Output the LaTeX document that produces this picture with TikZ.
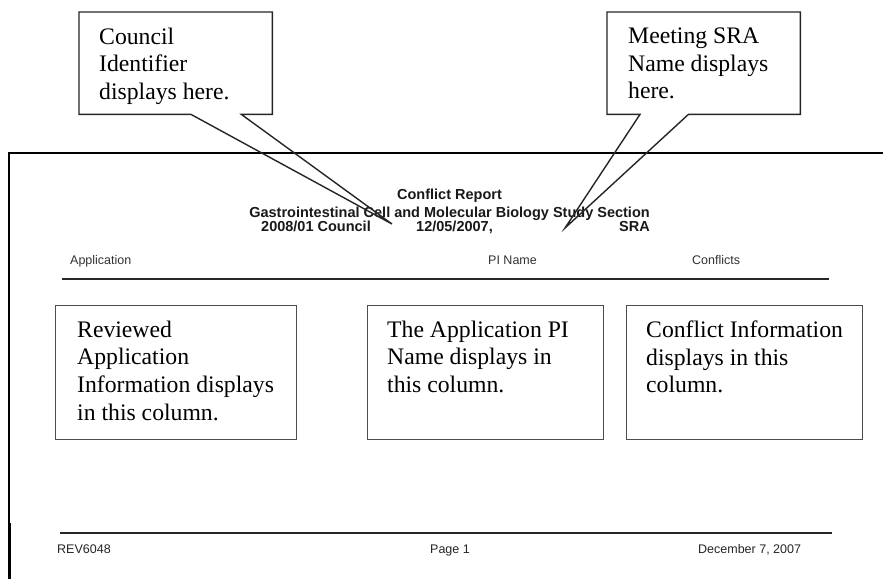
\documentclass[tikz,border=0pt]{standalone}
\usepackage{fontspec}
\setmainfont{Liberation Serif}
\setsansfont{Liberation Sans}
\begin{document}
\begin{tikzpicture}[x=1pt,y=-1pt,
  note/.style={font=\fontsize{23.7}{27.7}\selectfont\rmfamily, align=left, anchor=north west, inner sep=0pt},
  colbox/.style={draw=black!70, line width=1.3pt, anchor=north west, inner sep=0pt, minimum height=134pt},
  calloutbox/.style={anchor=north west, inner sep=0pt, minimum width=193pt, minimum height=102pt},
  callout/.style={draw=black!85, line width=1.4pt, line join=miter},
  hdr/.style={font=\fontsize{14.5}{16}\selectfont\sffamily\bfseries, text=black!90, inner sep=0pt},
  colhdr/.style={font=\fontsize{12.5}{14}\selectfont\sffamily, text=black!80, inner sep=0pt, anchor=base west},
  foot/.style={font=\fontsize{12.5}{14}\selectfont\sffamily, text=black!85, inner sep=0pt, anchor=base west},
  rule/.style={draw=black!85, line width=1.3pt}]
\useasboundingbox (0,0) rectangle (883,579);
\fill[white] (0,0) rectangle (883,579);
% page frame
\coordinate (ptl) at (9,153);
\coordinate (ptr) at (883,153);
\coordinate (pbl) at (9,579);
\coordinate (pmid) at (9,523);
\draw[line width=1.2pt] (ptr) -- (ptl) -- (pbl);
\draw[line width=3pt] (pmid) -- (pbl);
% report header
\node[hdr, anchor=base] (title) at (449.5,199) {Conflict Report};
\node[hdr, anchor=base] (section) at (449.5,217) {Gastrointestinal Cell and Molecular Biology Study Section};
\node[hdr, anchor=base west] (council) at (261,231) {2008/01 Council};
\node[hdr, anchor=base west] (date) at (416,231) {12/05/2007,};
\node[hdr, anchor=base east] (sra) at (650,231) {SRA};
% column headers
\node[colhdr] (happ) at (70,264.5) {Application};
\node[colhdr] (hpi) at (488,264.5) {PI Name};
\node[colhdr] (hconf) at (692,264.5) {Conflicts};
\coordinate (r1a) at (62,279);
\coordinate (r1b) at (829,279);
\draw[rule] (r1a) -- (r1b);
% column boxes
\node[colbox, minimum width=241pt] (b1) at (55,305) {};
\node[colbox, minimum width=236pt] (b2) at (367,305) {};
\node[colbox, minimum width=236pt] (b3) at (626,305) {};
\node[note] (b1t) at ([xshift=22pt,yshift=-15.5pt]b1.north west) {Reviewed\\Application\\Information displays\\in this column.};
\node[note] (b2t) at ([xshift=20pt,yshift=-15.5pt]b2.north west) {The Application PI\\Name displays in\\this column.};
\node[note] (b3t) at ([xshift=20pt,yshift=-15.5pt]b3.north west) {Conflict Information\\displays in this\\column.};
% footer
\coordinate (r2a) at (60,533);
\coordinate (r2b) at (832,533);
\draw[rule] (r2a) -- (r2b);
\node[foot] (rev) at (57,553.5) {REV6048};
\node[foot] (page) at (430,553.5) {Page 1};
\node[foot] (dec) at (698,553.5) {December 7, 2007};
% callouts
\node[calloutbox] (c1) at (79,12) {};
\coordinate (tip1) at (392,224);
\draw[callout] (c1.south west) -- (c1.north west) -- (c1.north east) -- (c1.south east) -- ([xshift=-31pt]c1.south east) -- (tip1) -- ([xshift=112pt]c1.south west) -- cycle;
\node[note] (c1t) at ([xshift=20pt,yshift=-15.5pt]c1.north west) {Council\\Identifier\\displays here.};
\node[calloutbox] (c2) at (607,12) {};
\coordinate (tip2) at (565,228);
\draw[callout] (c2.south west) -- (c2.north west) -- (c2.north east) -- (c2.south east) -- ([xshift=-112pt]c2.south east) -- (tip2) -- ([xshift=33pt]c2.south west) -- cycle;
\node[note] (c2t) at ([xshift=21pt,yshift=-15.5pt]c2.north west) {Meeting SRA\\Name displays\\here.};
\end{tikzpicture}
\end{document}
